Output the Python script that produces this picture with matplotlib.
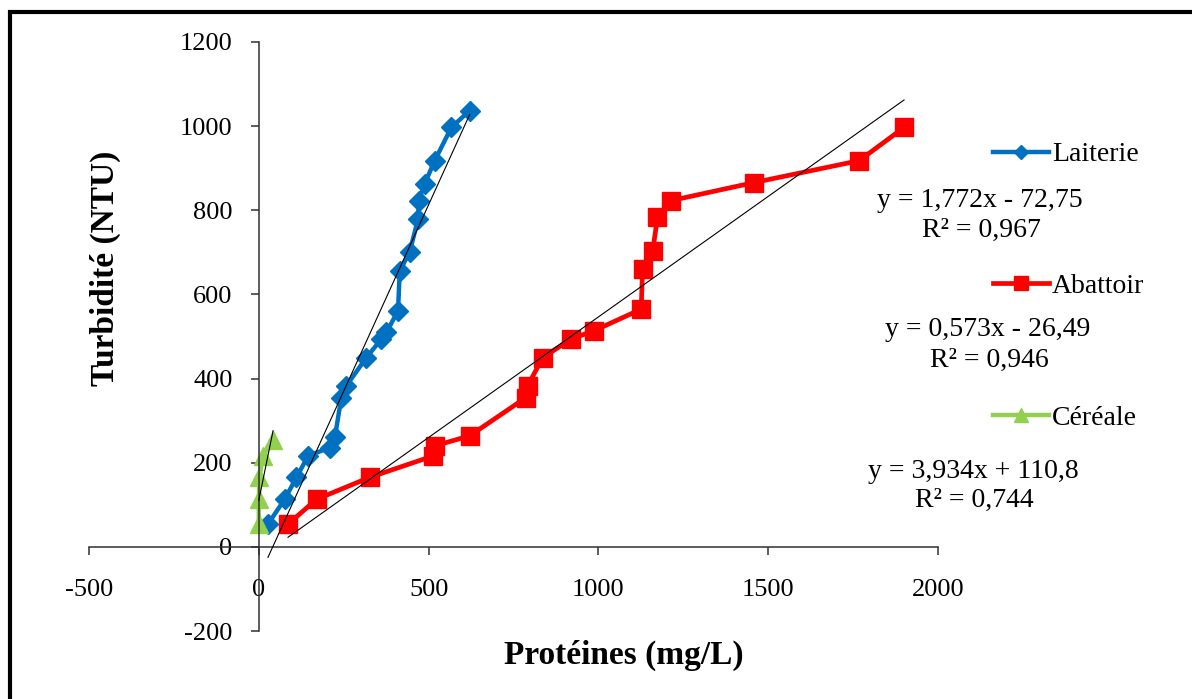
import matplotlib
matplotlib.use("Agg")
import matplotlib.pyplot as plt
import numpy as np
from matplotlib.patches import Rectangle

plt.rcParams['font.family'] = ['Liberation Serif', 'DejaVu Serif']
plt.rcParams['axes.unicode_minus'] = False

# Turbidite vs proteines, one series per effluent
lait_x = [27, 76, 111, 145, 209, 224, 243, 258, 317, 361, 376, 410, 415, 444, 469, 471, 488, 518, 567, 621]
lait_y = [54, 113, 165, 216, 236, 260, 355, 383, 450, 494, 510, 561, 656, 700, 779, 823, 862, 918, 997, 1037]

abat_x = [86, 170, 326, 513, 518, 621, 787, 792, 836, 920, 988, 1126, 1130, 1160, 1174, 1214, 1459, 1768, 1900]
abat_y = [54, 113, 165, 216, 240, 264, 355, 383, 450, 494, 514, 565, 660, 704, 783, 823, 866, 918, 997]

cer_x = [0, 0, 2, 12, 42]
cer_y = [54, 113, 165, 216, 255]

# linear trendlines (slope, intercept, R2)
lait_fit = (1.772, -72.75, 0.967)
abat_fit = (0.573, -26.49, 0.946)
cer_fit = (3.934, 110.8, 0.744)

xticks = [-500, 0, 500, 1000, 1500, 2000]
yticks = [-200, 0, 200, 400, 600, 800, 1000, 1200]

blue = '#0070C0'
red = '#FF0000'
green = '#92D050'

fig = plt.figure(figsize=(11.92, 6.99), dpi=100)
ax = fig.add_axes([89 / 1192, 1 - 631 / 699, 849 / 1192, 589 / 699])

l1, = ax.plot(lait_x, lait_y, color=blue, lw=3.2, marker='D', ms=9.8, label='Laiterie')
l2, = ax.plot(abat_x, abat_y, color=red, lw=3.4, marker='s', ms=12.5, label='Abattoir')
l3, = ax.plot(cer_x, cer_y, color=green, lw=3.2, marker='^', ms=12.5, label='Céréale')

for xs, (a, b, r2) in [(lait_x, lait_fit), (abat_x, abat_fit), (cer_x, cer_fit)]:
    xx = np.array([min(xs), max(xs)])
    ax.plot(xx, a * xx + b, color='black', lw=0.8, zorder=5)

ax.set_xlim(-500, 2000)
ax.set_ylim(-200, 1200)
ax.set_xticks(xticks)
ax.set_yticks(yticks)

ax.spines['left'].set_position(('data', 0))
ax.spines['bottom'].set_position(('data', 0))
ax.spines['top'].set_visible(False)
ax.spines['right'].set_visible(False)
for s in ['left', 'bottom']:
    ax.spines[s].set_color('#303030')
    ax.spines[s].set_linewidth(1.1)

ax.tick_params(axis='y', direction='out', length=6, width=1.1, color='#303030',
               pad=13, labelsize=19)
ax.tick_params(axis='x', direction='out', length=6, width=1.1, color='#303030',
               pad=17, labelsize=19)
ax.patch.set_alpha(0)

fig.text(624 / 1192, 1 - 655 / 699, 'Protéines (mg/L)', fontsize=24, fontweight='bold',
         ha='center', va='center')
fig.text(105 / 1192, 1 - 268 / 699, 'Turbidité (NTU)', fontsize=24, fontweight='bold',
         ha='center', va='center', rotation=90)

leg = ax.legend(handles=[l1, l2, l3], loc='upper left',
                bbox_to_anchor=(993 / 1192, 1 - 142 / 699), bbox_transform=fig.transFigure,
                frameon=False, fontsize=20, labelspacing=3.82, handlelength=2.0,
                handletextpad=0.12, borderaxespad=0, borderpad=0, markerscale=0.75)

eqs = [(980, 200, 230, lait_fit, '-'), (988, 330, 360, abat_fit, '-'), (973, 471, 500, cer_fit, '+')]
for cx, ye, yr, (a, b, r2), sgn in eqs:
    eq = 'y = {}x {} {}'.format(f'{a:.3f}'.replace('.', ','), sgn,
                                f'{abs(b):g}'.replace('.', ','))
    fig.text(cx / 1192, 1 - ye / 699, eq, fontsize=20, ha='center', va='center')
    fig.text((cx + 1) / 1192, 1 - yr / 699, 'R² = ' + f'{r2:.3f}'.replace('.', ','),
             fontsize=20, ha='center', va='center')

# outer frame (right and bottom edges run off the page)
fig.add_artist(Rectangle((10 / 1192, -0.1), 1.2, 1 - 12 / 699 + 0.1,
                         transform=fig.transFigure, fill=False, lw=3, color='black'))

fig.savefig('out.png', dpi=100)
